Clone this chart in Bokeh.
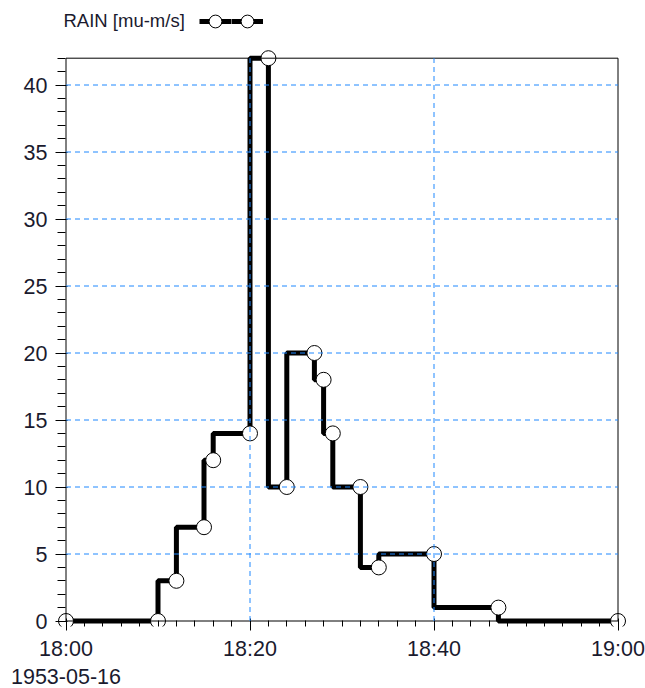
import pandas as pd
from bokeh.plotting import figure
from bokeh.models import (ColumnDataSource, Range1d, SingleIntervalTicker, FixedTicker,
                          CustomJSTickFormatter, Legend, LegendItem, Label, BoxAnnotation)
from bokeh.embed import file_html
from bokeh.resources import INLINE

# ---- data ----
date = "1953-05-16"
times = ["18:00", "18:10", "18:12", "18:15", "18:16", "18:20", "18:22", "18:24",
         "18:27", "18:28", "18:29", "18:32", "18:34", "18:40", "18:47", "19:00"]
rain = [0, 0, 3, 7, 12, 14, 42, 10, 20, 18, 14, 10, 4, 5, 1, 0]
series_label = "RAIN [mu-m/s]"
x_tick_times = ["18:00", "18:20", "18:40", "19:00"]
x_tick_labels = ["18:00\n1953-05-16", "18:20", "18:40", "19:00"]
x_minor_step_min = 2
y_start, y_end = 0, 42
y_major_step = 5

t = pd.to_datetime([f"{date} {s}" for s in times])
src = ColumnDataSource(dict(t=t, rain=rain))

tick_dt = pd.to_datetime([f"{date} {s}" for s in x_tick_times])
tick_ms = [ts.value / 1e6 for ts in tick_dt]
minor_dt = pd.date_range(tick_dt[0], tick_dt[-1], freq=f"{x_minor_step_min}min")
minor_ms = [ts.value / 1e6 for ts in minor_dt]
x0_ms, x1_ms = tick_ms[0], tick_ms[-1]

# ---- layout (pixels) ----
FRAME_L, FRAME_W, FRAME_H = 57, 569, 626
PX_PER_MIN = 9.2          # 20 min = 184 px
PX_PER_Y = 13.4           # 5 units = 67 px
PAD_L = 8.5               # 18:00 sits 8.5 px right of the frame edge (pixel centre)
PAD_B = 5.5               # y=0 sits 5.5 px above the frame bottom (pixel centre)
MS_PER_PX = 60000 / PX_PER_MIN
xr = Range1d(x0_ms - PAD_L * MS_PER_PX, x0_ms + (FRAME_W - PAD_L) * MS_PER_PX)
yr = Range1d(y_start - PAD_B / PX_PER_Y, y_start + (FRAME_H - PAD_B) / PX_PER_Y)

FONT = "Liberation Sans"
TXT = "#1a1a2e"
GRID = "#1e88ff"

p = figure(frame_width=FRAME_W, frame_height=FRAME_H, x_axis_type="datetime",
           output_backend="svg", toolbar_location=None, x_range=xr, y_range=yr,
           min_border_left=FRAME_L, min_border_top=0, min_border_right=19, min_border_bottom=0)
p.background_fill_color = "white"
p.border_fill_color = "white"
p.outline_line_color = None
p.xgrid.visible = False
p.ygrid.visible = False

step = p.step("t", "rain", source=src, mode="before", line_color="black", line_width=5)
pts = p.scatter("t", "rain", source=src, size=15, fill_color="white",
                line_color="black", line_width=1)

# dashed grid on top of the data
y_grid = list(range(y_start + y_major_step, y_end, y_major_step))
x_grid = tick_ms[1:-1]
p.segment(x0=[x0_ms] * len(y_grid), x1=[x1_ms] * len(y_grid), y0=y_grid, y1=y_grid,
          line_color=GRID, line_width=1, line_dash="5 4", level="overlay")
p.segment(x0=x_grid, x1=x_grid, y0=[y_start] * len(x_grid), y1=[y_end] * len(x_grid),
          line_color=GRID, line_width=1, line_dash="5 4", level="overlay")

# plot box = axis lines + top/right border
p.add_layout(BoxAnnotation(left=x0_ms, right=x1_ms, bottom=y_start, top=y_end,
                           fill_alpha=0, fill_color=None, line_color="black",
                           line_alpha=1, line_width=1, line_dash="solid"))

# axes (ticks reach in from the frame edge to the data box)
xa = p.xaxis[0]
xa.ticker = FixedTicker(ticks=tick_ms, minor_ticks=minor_ms)
xa.formatter = CustomJSTickFormatter(args=dict(labels=x_tick_labels), code="return labels[index];")
xa.bounds = (x0_ms, x1_ms)
xa.major_tick_in, xa.major_tick_out = 8, 4
xa.minor_tick_in, xa.minor_tick_out = 6, 0
xa.major_label_standoff = 6
ya = p.yaxis[0]
ya.ticker = SingleIntervalTicker(interval=y_major_step, num_minor_ticks=5)
ya.bounds = (y_start, y_end)
ya.major_tick_in, ya.major_tick_out = 10, 2
ya.minor_tick_in, ya.minor_tick_out = 8, 0
ya.major_label_standoff = 8
for ax in (xa, ya):
    ax.axis_line_color = None
    ax.major_tick_line_color = "black"
    ax.minor_tick_line_color = "black"
    ax.major_label_text_font = FONT
    ax.major_label_text_font_size = "21.5px"
    ax.major_label_text_color = TXT

# legend row: text, then the glyph sample (frame-relative screen units)
p.add_layout(Label(x=6, y=606, x_units="screen", y_units="screen", text=series_label,
                   text_font=FONT, text_font_size="18.5px", text_color=TXT,
                   text_baseline="middle", text_align="left"))
legend = Legend(items=[LegendItem(label=" ", renderers=[step, pts]),
                       LegendItem(label=" ", renderers=[step, pts])],
                orientation="horizontal", location=(142, 588),
                glyph_width=32, glyph_height=34, label_width=0, label_standoff=0,
                label_text_font_size="1px",
                spacing=0, padding=0, margin=0, border_line_color=None,
                background_fill_alpha=0)
p.add_layout(legend)

open("out.html", "w").write(file_html(p, INLINE))
